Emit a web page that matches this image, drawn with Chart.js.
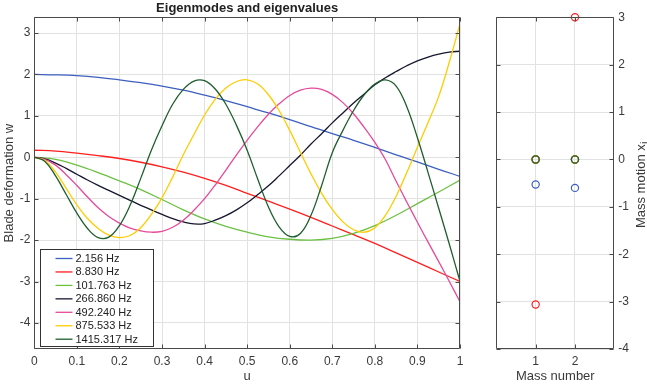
<!DOCTYPE html>
<html><head><meta charset="utf-8">
<script src="https://cdn.jsdelivr.net/npm/chart.js@4.4.1/dist/chart.umd.min.js"></script>
<style>
html,body{margin:0;padding:0;background:#fff;overflow:hidden}
#c1{position:absolute;left:0;top:0}
#c2{position:absolute;left:470px;top:0}
</style></head><body>
<canvas id="c1" width="470" height="390"></canvas>
<canvas id="c2" width="177" height="390"></canvas>
<script>
// ---------- data ----------
const uFine = [0,0.025,0.05,0.075,0.1,0.125,0.15,0.175,0.2,0.225,0.25,0.275,0.3,0.325,0.35,0.375,0.4,0.425,0.45,0.475,0.5,0.525,0.55,0.575,0.6,0.625,0.65,0.675,0.7,0.725,0.75,0.775,0.8,0.825,0.85,0.875,0.9,0.925,0.95,0.975,1];
const uCoarse = [0,0.05,0.1,0.15,0.2,0.25,0.3,0.35,0.4,0.45,0.5,0.55,0.6,0.65,0.7,0.75,0.8,0.85,0.9,0.95,1];

const w1 = [2.0,1.99,1.97,1.93,1.87,1.80,1.72,1.62,1.50,1.37,1.22,1.07,0.91,0.74,0.57,0.41,0.24,0.06,-0.11,-0.29,-0.46];
const w2 = [0.17,0.15,0.10,0.04,-0.03,-0.12,-0.23,-0.36,-0.51,-0.68,-0.87,-1.06,-1.25,-1.45,-1.66,-1.87,-2.08,-2.31,-2.54,-2.77,-3.0];
const w3 = [0,-0.05,-0.19,-0.37,-0.57,-0.78,-1.02,-1.27,-1.49,-1.67,-1.81,-1.92,-1.98,-2.0,-1.96,-1.84,-1.65,-1.40,-1.12,-0.84,-0.55];
const w4 = [0,-0.04,-0.14,-0.27,-0.41,-0.55,-0.68,-0.80,-0.92,-1.04,-1.16,-1.27,-1.38,-1.48,-1.56,-1.61,-1.60,-1.52,-1.41,-1.27,-1.10,-0.90,-0.69,-0.45,-0.20,0.05,0.32,0.57,0.83,1.07,1.31,1.53,1.75,1.92,2.07,2.21,2.33,2.42,2.49,2.54,2.56];
const w5 = [0,-0.05,-0.19,-0.42,-0.68,-0.96,-1.22,-1.43,-1.59,-1.71,-1.78,-1.81,-1.79,-1.69,-1.52,-1.28,-1.00,-0.67,-0.31,0.06,0.41,0.74,1.04,1.29,1.49,1.62,1.67,1.64,1.52,1.32,1.05,0.72,0.36,-0.06,-0.58,-1.08,-1.57,-2.05,-2.52,-3.00,-3.49];
const w6 = [0,-0.08,-0.36,-0.75,-1.15,-1.48,-1.72,-1.88,-1.94,-1.89,-1.70,-1.38,-0.98,-0.48,0.06,0.55,1.02,1.40,1.67,1.83,1.87,1.77,1.51,1.13,0.65,0.12,-0.40,-0.87,-1.26,-1.56,-1.75,-1.81,-1.70,-1.40,-0.94,-0.37,0.24,0.84,1.47,2.30,3.22];
const w7 = [0,-0.10,-0.45,-0.90,-1.35,-1.72,-1.94,-1.93,-1.65,-1.16,-0.51,0.17,0.76,1.28,1.64,1.84,1.85,1.65,1.28,0.77,0.17,-0.53,-1.20,-1.68,-1.91,-1.84,-1.40,-0.68,0.11,0.65,1.13,1.51,1.77,1.87,1.72,1.22,0.47,-0.37,-1.23,-2.10,-3.00];

const modeLabels = ['2.156 Hz','8.830 Hz','101.763 Hz','266.860 Hz','492.240 Hz','875.533 Hz','1415.317 Hz'];
const modeU = [uCoarse,uCoarse,uCoarse,uFine,uFine,uFine,uFine];
const modeW = [w1,w2,w3,w4,w5,w6,w7];

const massNumbers = [1,2];
const x1 = [-0.53,-0.60];
const x2 = [-3.06,3.00];
const x3 = [0,0];
const x4 = [0,0];
const x5 = [0,0];
const x6 = [0,0];
const x7 = [0,0];
const massX = [x1,x2,x3,x4,x5,x6,x7];

const xTicksL = [0,0.1,0.2,0.3,0.4,0.5,0.6,0.7,0.8,0.9,1];
const xTickLabelsL = ['0','0.1','0.2','0.3','0.4','0.5','0.6','0.7','0.8','0.9','1'];
const yTicksL = [-4,-3,-2,-1,0,1,2,3];
const xTicksR = [1,2];
const yTicksR = [-4,-3,-2,-1,0,1,2,3];

// ---------- styles ----------
const colors = ['#3d5fbf','#ff1f1f','#6cc043','#161630','#e64a9a','#ffcc00','#1f5e2e'];
const FONT = '"Liberation Sans", Arial, Helvetica, sans-serif';
const TXT = '#3a3a3a';
const GRID = '#e2e2e2';
const AXIS = '#4a4a4a';

const boxTicks = {
  id:'boxTicks',
  afterDatasetsDraw(chart){
    const {ctx, chartArea:a, scales} = chart;
    const xs = scales.x, ys = scales.y;
    ctx.save();
    ctx.strokeStyle = AXIS; ctx.lineWidth = 1;
    const L=Math.round(a.left)+0.5, R=Math.round(a.right)-0.5, T=Math.round(a.top)+0.5, B=Math.round(a.bottom)-0.5;
    ctx.beginPath();
    ctx.rect(L,T,R-L,B-T);
    const len=4;
    xs.ticks.forEach(t=>{const p=Math.round(xs.getPixelForValue(t.value))+0.5; ctx.moveTo(p,B); ctx.lineTo(p,B-len); ctx.moveTo(p,T); ctx.lineTo(p,T+len);});
    ys.ticks.forEach(t=>{const p=Math.round(ys.getPixelForValue(t.value))+0.5; ctx.moveTo(L,p); ctx.lineTo(L+len,p); ctx.moveTo(R,p); ctx.lineTo(R-len,p);});
    ctx.stroke(); ctx.restore();
  }
};

const titlePlugin = {
  id:'titleTop',
  afterDraw(chart){
    const {ctx, chartArea:a} = chart;
    ctx.save();
    ctx.font = 'bold 13px ' + FONT;
    ctx.fillStyle = '#222';
    ctx.textAlign = 'center'; ctx.textBaseline = 'middle';
    ctx.fillText('Eigenmodes and eigenvalues', (a.left+a.right)/2, 8.5);
    ctx.restore();
  }
};

const legendPlugin = {
  id:'legendIn',
  afterDatasetsDraw(chart){
    const {ctx, chartArea:a} = chart;
    const ds = chart.data.datasets;
    const bx = Math.round(a.left + 5.7)+0.5, bw = 113, bh = 97;
    const by = Math.round(a.bottom - 3.3 - bh)+0.5;
    ctx.save();
    ctx.fillStyle = '#fff';
    ctx.fillRect(bx,by,bw,bh);
    ctx.strokeStyle = '#333'; ctx.lineWidth = 1;
    ctx.strokeRect(bx,by,bw,bh);
    ctx.font = '11px ' + FONT;
    ctx.textBaseline = 'middle'; ctx.textAlign = 'left';
    ds.forEach((d,i)=>{
      const y = by + 9 + i*13.45;
      ctx.strokeStyle = d.borderColor; ctx.lineWidth = 1.3;
      ctx.beginPath(); ctx.moveTo(bx+15,y); ctx.lineTo(bx+32,y); ctx.stroke();
      ctx.fillStyle = '#222';
      ctx.fillText(d.label, bx+35, y+0.5);
    });
    ctx.restore();
  }
};

const rightTitle = {
  id:'rightTitle',
  afterDraw(chart){
    const {ctx, chartArea:a} = chart;
    ctx.save();
    ctx.translate(chart.width - 6, (a.top+a.bottom)/2 + 2);
    ctx.rotate(-Math.PI/2);
    ctx.fillStyle = TXT;
    ctx.textBaseline = 'middle'; ctx.textAlign = 'left';
    ctx.font = '13px ' + FONT;
    const main = 'Mass motion x';
    const mw = ctx.measureText(main).width;
    ctx.font = '9px ' + FONT;
    const sw = ctx.measureText('i').width;
    const x0 = -(mw+sw)/2;
    ctx.font = '13px ' + FONT;
    ctx.fillText(main, x0, 0);
    ctx.font = '9px ' + FONT;
    ctx.fillText('i', x0+mw+0.5, 4);
    ctx.restore();
  }
};

// ---------- left chart ----------
new Chart(document.getElementById('c1'), {
  type:'line',
  data:{
    datasets: modeW.map((w,i)=>({
      label: modeLabels[i],
      data: modeU[i].map((u,j)=>({x:u, y:w[j]})),
      borderColor: colors[i], backgroundColor: colors[i],
      borderWidth: 1.3, pointRadius: 0, tension: 0.4, fill:false, order: -i
    }))
  },
  options:{
    responsive:false, animation:false, devicePixelRatio:1,
    layout:{padding:{top:17.3, right:10, left:0, bottom:0}},
    plugins:{legend:{display:false}, tooltip:{enabled:false}, title:{display:false}},
    scales:{
      x:{
        type:'linear', min:0, max:1,
        afterBuildTicks: s=>{ s.ticks = xTicksL.map(v=>({value:v})); },
        afterFit: s=>{ s.height = 41; },
        ticks:{ callback:(v,i)=>xTickLabelsL[i], font:{family:FONT,size:12}, color:TXT, padding:5, maxRotation:0, autoSkip:false },
        grid:{ color:GRID, drawTicks:false },
        border:{ display:false },
        title:{ display:true, text:'u', font:{family:FONT,size:13}, color:TXT, padding:{top:0,bottom:6} }
      },
      y:{
        type:'linear', min:-4.63, max:3.38,
        afterBuildTicks: s=>{ s.ticks = yTicksL.map(v=>({value:v})); },
        afterFit: s=>{ s.width = 34.3; },
        ticks:{ font:{family:FONT,size:12}, color:TXT, padding:4 },
        grid:{ color:GRID, drawTicks:false },
        border:{ display:false },
        title:{ display:true, text:'Blade deformation w', font:{family:FONT,size:13}, color:TXT, padding:{top:2,bottom:0} }
      }
    }
  },
  plugins:[titlePlugin, boxTicks, legendPlugin]
});

// ---------- right chart ----------
new Chart(document.getElementById('c2'), {
  type:'scatter',
  data:{
    datasets: massX.map((v,i)=>({
      label: modeLabels[i],
      data: massNumbers.map((m,j)=>({x:m, y:v[j]})),
      borderColor: colors[i], backgroundColor:'rgba(0,0,0,0)',
      pointRadius: 3.6, pointBorderWidth: 1.2, pointStyle:'circle', showLine:false, clip:false, order:-i
    }))
  },
  options:{
    responsive:false, animation:false, devicePixelRatio:1,
    layout:{padding:{top:17.3, right:0, left:26.3, bottom:0}},
    plugins:{legend:{display:false}, tooltip:{enabled:false}},
    scales:{
      x:{
        type:'linear', min:0, max:3,
        afterBuildTicks: s=>{ s.ticks = xTicksR.map(v=>({value:v})); },
        afterFit: s=>{ s.height = 41; },
        ticks:{ font:{family:FONT,size:12}, color:TXT, padding:5, maxRotation:0, autoSkip:false },
        grid:{ color:GRID, drawTicks:false },
        border:{ display:false },
        title:{ display:true, text:'Mass number', font:{family:FONT,size:13}, color:TXT, padding:{top:0,bottom:6} }
      },
      y:{
        type:'linear', position:'right', min:-4, max:3,
        afterBuildTicks: s=>{ s.ticks = yTicksR.map(v=>({value:v})); },
        afterFit: s=>{ s.width = 32.7; },
        ticks:{ font:{family:FONT,size:12}, color:TXT, padding:4 },
        grid:{ color:GRID, drawTicks:false },
        border:{ display:false }
      }
    }
  },
  plugins:[boxTicks, rightTitle]
});
</script>
</body></html>
